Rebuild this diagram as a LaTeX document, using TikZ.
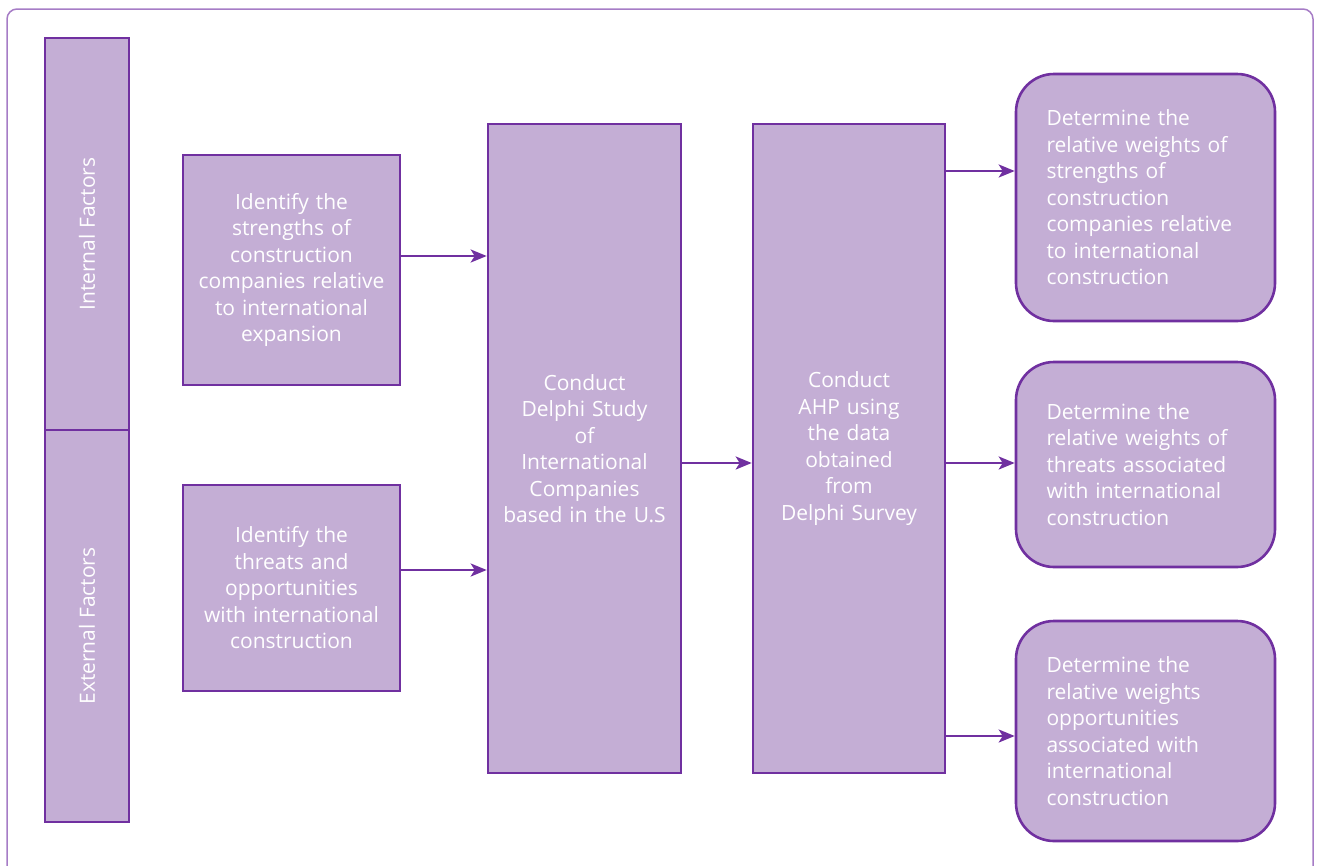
\documentclass[tikz,border=0pt]{standalone}
\usepackage{fontspec}
\setmainfont{Open Sans}
\usetikzlibrary{arrows.meta}
\definecolor{boxfill}{HTML}{C4AED5}
\definecolor{boxline}{HTML}{7030A0}
\definecolor{frameline}{HTML}{A67CC6}
\tikzset{
  pbox/.style={draw=boxline, fill=boxfill, line width=2.6pt, text=white, align=center,
    font=\fontsize{21}{26.5}\selectfont, inner sep=0pt},
  rbox/.style={pbox, rounded corners=38pt, align=left},
  arr/.style={draw=boxline, line width=2.4pt, -{Stealth[length=16pt,width=13pt,inset=4pt]}},
}
\begin{document}
\begin{tikzpicture}[x=1pt,y=-1pt]
\useasboundingbox (0,0) rectangle (1317,865);
\begin{scope}
\clip (0,0) rectangle (1317,865);
\draw[frameline, line width=1.5pt, rounded corners=10pt] (7,9) rectangle (1313,900);
\end{scope}
% left bar
\node[pbox, minimum width=84pt, minimum height=392pt] (int) at (87,234) {};
\node[pbox, minimum width=84pt, minimum height=392pt] (ext) at (87,626) {};
\node[rotate=90, text=white, font=\fontsize{21}{26.5}\selectfont] (intt) at (int.center) {Internal Factors};
\node[rotate=90, text=white, font=\fontsize{21}{26.5}\selectfont] (extt) at (ext.center) {External Factors};
% input boxes
\node[pbox, minimum width=217pt, minimum height=230pt, text width=205pt] (str) at (291.5,270) {Identify the\\strengths of\\construction\\companies relative\\to international\\expansion};
\node[pbox, minimum width=217pt, minimum height=206pt, text width=205pt] (thr) at (291.5,588) {Identify the\\threats and\\opportunities\\with international\\construction};
% main boxes
\node[pbox, minimum width=193pt, minimum height=649pt, text width=185pt] (del) at (584.5,448.5) {Conduct\\Delphi Study\\of\\International\\Companies\\based in the U.S};
\node[pbox, minimum width=192pt, minimum height=649pt, text width=185pt] (ahp) at (849,448.5) {Conduct\\AHP using\\the data\\obtained\\from\\Delphi Survey};
% output boxes
\node[rbox, minimum width=259pt, minimum height=247pt, text width=198pt] (o1) at (1145.5,197.5) {Determine the\\relative weights of\\strengths of\\construction\\companies relative\\to international\\construction};
\node[rbox, minimum width=259pt, minimum height=205pt, text width=198pt] (o2) at (1145.5,464.5) {Determine the\\relative weights of\\threats associated\\with international\\construction};
\node[rbox, minimum width=259pt, minimum height=220pt, text width=198pt] (o3) at (1145.5,731) {Determine the\\relative weights\\opportunities\\associated with\\international\\construction};
% arrows
\draw[arr] (str.east |- 0,256) -- (del.west |- 0,256);
\draw[arr] (thr.east |- 0,570) -- (del.west |- 0,570);
\draw[arr] (del.east |- 0,463) -- (ahp.west |- 0,463);
\draw[arr] (ahp.east |- 0,171) -- (o1.west |- 0,171);
\draw[arr] (ahp.east |- 0,463) -- (o2.west |- 0,463);
\draw[arr] (ahp.east |- 0,736) -- (o3.west |- 0,736);
\end{tikzpicture}
\end{document}
